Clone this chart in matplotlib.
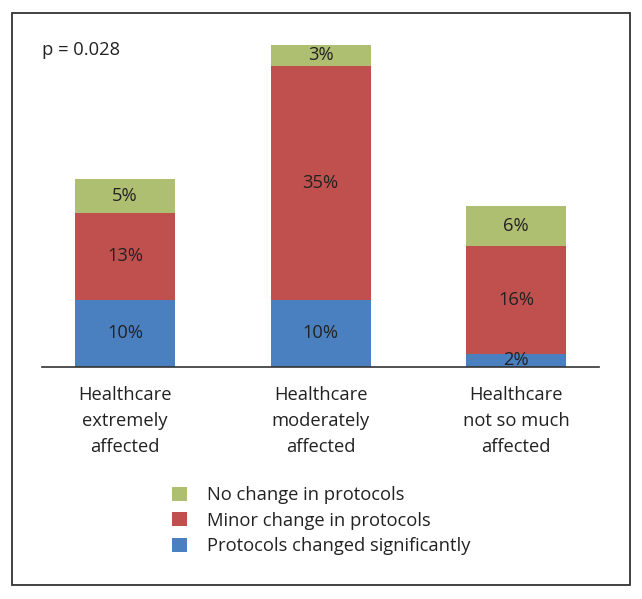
import matplotlib
matplotlib.use("Agg")
import matplotlib.pyplot as plt
from matplotlib.patches import Rectangle, Patch

categories = ["Healthcare\nextremely\naffected", "Healthcare\nmoderately\naffected", "Healthcare\nnot so much\naffected"]
series_names = ["Protocols changed significantly", "Minor change in protocols", "No change in protocols"]
significant = [10, 10, 2]
minor = [13, 35, 16]
no_change = [5, 3, 6]
colors = ["#4A80C0", "#BF504D", "#AEBF72"]
p_text = "p = 0.028"

plt.rcParams['font.family'] = ['Open Sans', 'DejaVu Sans']
FS = 13.2

fig = plt.figure(figsize=(6.42, 5.99), dpi=100)
W, H = 642, 599
def fx(px): return px / W
def fy(py): return 1 - py / H

ax = fig.add_axes([fx(42), fy(367), fx(599) - fx(42), fy(28) - fy(367)])
x = list(range(len(categories)))
k = 195.5
xmin = -(125 - 42) / k
ax.set_xlim(xmin, xmin + 557 / k)
ax.set_ylim(0, (367 - 28) / 6.7)

width = 100 / k
series = [significant, minor, no_change]
bottoms = [0] * len(categories)
for vals, col in zip(series, colors):
    ax.bar(x, vals, width, bottom=bottoms, color=col, edgecolor='none')
    for xi, v, b in zip(x, vals, bottoms):
        ax.text(xi, b + v / 2, f"{v}%", ha='center', va='center', fontsize=FS, color='#222222')
    bottoms = [b + v for b, v in zip(bottoms, vals)]

for s in ['top', 'left', 'right']:
    ax.spines[s].set_visible(False)
ax.spines['bottom'].set_color('#333333')
ax.spines['bottom'].set_linewidth(1.2)
ax.set_yticks([])
ax.set_xticks(x)
ax.set_xticklabels(categories, fontsize=FS, color='#222222', linespacing=1.55)
ax.tick_params(axis='x', length=0, pad=14)

fig.text(fx(42), fy(50), p_text, ha='left', va='center', fontsize=FS, color='#222222')

handles = [Patch(facecolor=c, edgecolor='none') for c in reversed(colors)]
labels = list(reversed(series_names))
fig.legend(handles, labels, loc='upper left', bbox_to_anchor=(fx(165), fy(479)),
           frameon=False, fontsize=FS, handlelength=0.8, handleheight=0.8,
           handletextpad=1.1, labelspacing=0.4, borderaxespad=0, labelcolor='#222222')

fig.patches.append(Rectangle((fx(12), fy(585)), fx(630) - fx(12), fy(13) - fy(585),
                             transform=fig.transFigure, fill=False, edgecolor='#333333',
                             linewidth=1.3))

fig.savefig("out.png", dpi=100)
